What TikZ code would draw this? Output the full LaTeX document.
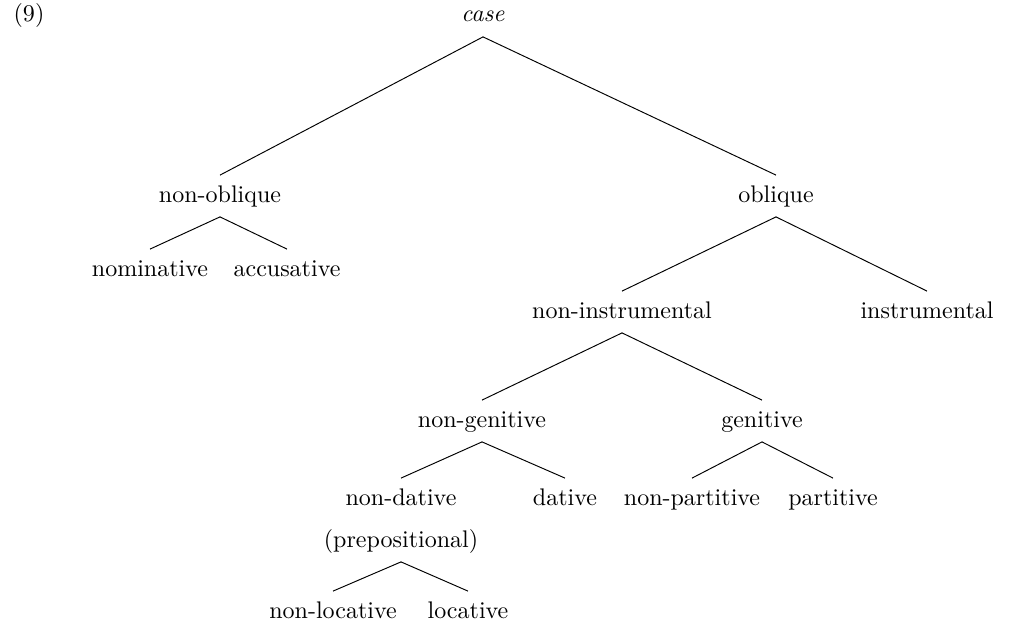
\documentclass[tikz,border=0pt]{standalone}

\begin{document}
\begin{tikzpicture}[x=0.01464cm,y=-0.01464cm,
    every node/.style={inner sep=4pt,text height=7pt,text depth=2pt}]
\useasboundingbox (0,0) rectangle (1010,626);

% le numero
\node (nine) at (29,16) {(9)};

% les noeuds de l'arbre
\foreach \n/\x/\y/\t in {case/483/16/\textit{case},
    nonobl/220/196/non-oblique, obl/776/196/oblique,
    nom/150/270/nominative, acc/287/270/accusative,
    noninstr/622/312/non-instrumental, instr/927/312/instrumental,
    nongen/482/421/non-genitive, gen/762/421/genitive,
    nondat/401/499/non-dative, dat/565/499/dative,
    nonpart/692/499/non-partitive, part/833/499/partitive,
    prep/401/541/(prepositional),
    nonloc/333/612/non-locative, loc/468/612/locative}
    \node (\n) at (\x,\y) {\t};

% les branches
\foreach \p/\c in {case/nonobl, case/obl, nonobl/nom, nonobl/acc,
    obl/noninstr, obl/instr, noninstr/nongen, noninstr/gen,
    nongen/nondat, nongen/dat, gen/nonpart, gen/part,
    prep/nonloc, prep/loc}
    \draw (\p.south)--(\c.north);
\end{tikzpicture}
\end{document}
